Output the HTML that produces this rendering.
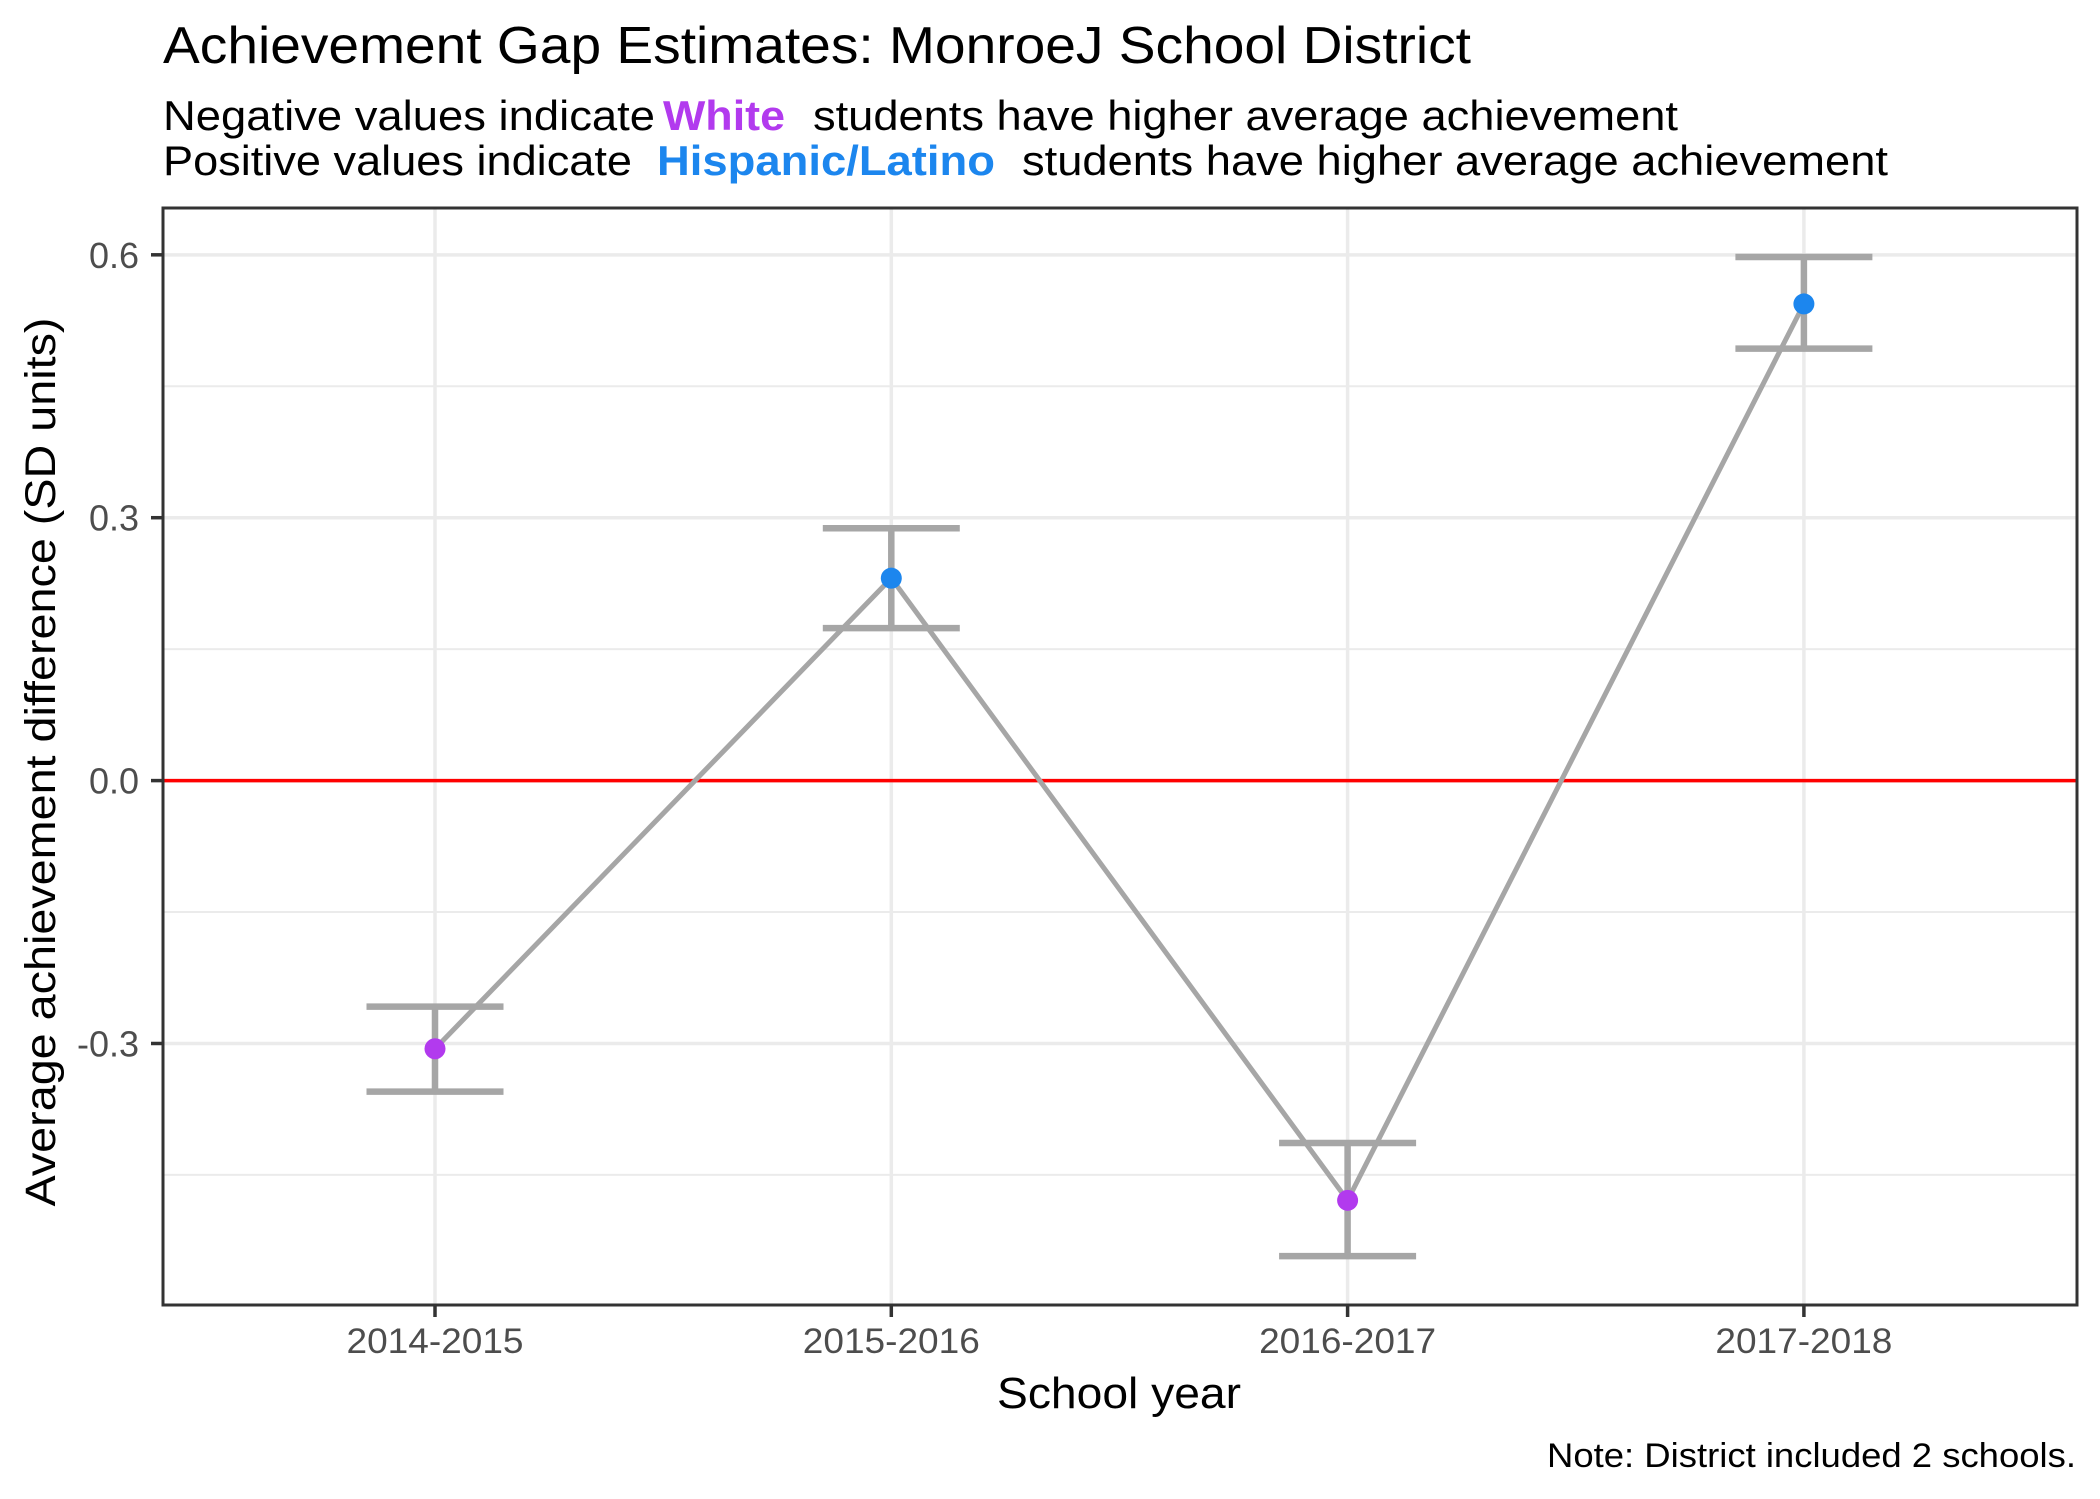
<!DOCTYPE html>
<html><head><meta charset="utf-8"><style>
html,body{margin:0;padding:0;background:#fff;}
svg{display:block;font-family:"Liberation Sans",Arial,sans-serif;}
</style></head><body>
<svg id="chart" width="2100" height="1499" viewBox="0 0 2100 1499" xmlns="http://www.w3.org/2000/svg">
<rect width="2100" height="1499" fill="#fff"/>
<text x="163" y="63" font-size="52" fill="#000" textLength="1308" lengthAdjust="spacingAndGlyphs">Achievement Gap Estimates: MonroeJ School District</text>
<g font-size="42">
<text x="163" y="130" fill="#000" textLength="492" lengthAdjust="spacingAndGlyphs">Negative values indicate</text>
<text x="663" y="130" fill="#B23AEE" font-weight="bold" textLength="122" lengthAdjust="spacingAndGlyphs">White</text>
<text x="813" y="130" fill="#000" textLength="865" lengthAdjust="spacingAndGlyphs">students have higher average achievement</text>
<text x="163" y="175" fill="#000" textLength="469" lengthAdjust="spacingAndGlyphs">Positive values indicate</text>
<text x="657" y="175" fill="#1C86EE" font-weight="bold" textLength="338" lengthAdjust="spacingAndGlyphs">Hispanic/Latino</text>
<text x="1022" y="175" fill="#000" textLength="866" lengthAdjust="spacingAndGlyphs">students have higher average achievement</text>
</g>
<g id="grid"></g>
<g id="marks"></g>
<rect x="163" y="208" width="1914" height="1097" fill="none" stroke="#333" stroke-width="3"/>
<g id="axes"></g>
<text x="1119" y="1408" font-size="44" text-anchor="middle" fill="#000" textLength="244" lengthAdjust="spacingAndGlyphs">School year</text>
<text transform="translate(55,762) rotate(-90)" font-size="43" text-anchor="middle" fill="#000" textLength="889" lengthAdjust="spacingAndGlyphs">Average achievement difference (SD units)</text>
<text x="2076" y="1467" font-size="34" text-anchor="end" fill="#000" textLength="529" lengthAdjust="spacingAndGlyphs">Note: District included 2 schools.</text>
</svg>
<script>
const categories = ["2014-2015","2015-2016","2016-2017","2017-2018"];
const estimates = [-0.306, 0.231, -0.479, 0.544];
const upper = [-0.258, 0.288, -0.4135, 0.5975];
const lower = [-0.355, 0.174, -0.5426, 0.493];
const yTicks = [-0.3, 0.0, 0.3, 0.6];
const yTickLabels = ["-0.3","0.0","0.3","0.6"];
const yMinor = [-0.45, -0.15, 0.15, 0.45];

const NS = "http://www.w3.org/2000/svg";
const panel = {left:163, right:2077, top:208, bottom:1305};
const yZero = 780.6, yPerUnit = 876.3;
function yScale(v){ return yZero - v*yPerUnit; }
function xScale(i){ return 435 + i*456.3; }
function mk(tag, attrs, parent){
  const el = document.createElementNS(NS, tag);
  for (const k in attrs) el.setAttribute(k, attrs[k]);
  parent.appendChild(el);
  return el;
}
const grid = document.getElementById('grid');
const marks = document.getElementById('marks');
const axes = document.getElementById('axes');

yMinor.forEach(v=>{
  const l = mk('line',{x1:panel.left,x2:panel.right,y1:yScale(v),y2:yScale(v),stroke:'#EBEBEB','stroke-width':2},grid);
  
  
});
yTicks.forEach((v,i)=>{
  const l = mk('line',{x1:panel.left,x2:panel.right,y1:yScale(v),y2:yScale(v),stroke:'#EBEBEB','stroke-width':3.5},grid);
  
  
  const t = mk('line',{x1:panel.left-12,x2:panel.left,y1:yScale(v),y2:yScale(v),stroke:'#333','stroke-width':3.5},axes);
  
  
  const tx = mk('text',{x:139,y:yScale(v)+13,'font-size':36,'text-anchor':'end',fill:'#4D4D4D'},axes);
  tx.textContent = yTickLabels[i];
  
  
});
categories.forEach((c,i)=>{
  const x = xScale(i);
  const l = mk('line',{x1:x,x2:x,y1:panel.top,y2:panel.bottom,stroke:'#EBEBEB','stroke-width':3.5},grid);
  
  
  const t = mk('line',{x1:x,x2:x,y1:panel.bottom,y2:panel.bottom+12,stroke:'#333','stroke-width':3.5},axes);
  
  
  const tx = mk('text',{x:x,y:1353,'font-size':35,'text-anchor':'middle',fill:'#4D4D4D',textLength:177,lengthAdjust:'spacingAndGlyphs'},axes);
  tx.textContent = c;
  
  
});
const zl = mk('line',{x1:panel.left,x2:panel.right,y1:yScale(0),y2:yScale(0),stroke:'#FF0000','stroke-width':3.5},marks);



categories.forEach((c,i)=>{
  const x = xScale(i);
  const g = mk('g',{stroke:'#A6A6A6','stroke-width':6.5,fill:'none'},marks);
  
  
  mk('line',{x1:x,x2:x,y1:yScale(upper[i]),y2:yScale(lower[i])},g);
  mk('line',{x1:x-68.5,x2:x+68.5,y1:yScale(upper[i]),y2:yScale(upper[i])},g);
  mk('line',{x1:x-68.5,x2:x+68.5,y1:yScale(lower[i]),y2:yScale(lower[i])},g);
});
const pts = estimates.map((v,i)=>xScale(i)+','+yScale(v)).join(' ');
const pl = mk('polyline',{points:pts,fill:'none',stroke:'#A6A6A6','stroke-width':5},marks);


estimates.forEach((v,i)=>{
  const p = mk('circle',{cx:xScale(i),cy:yScale(v),r:10.5,fill: v<0 ? '#B23AEE' : '#1C86EE'},marks);
  
  
});
</script>
</body></html>
